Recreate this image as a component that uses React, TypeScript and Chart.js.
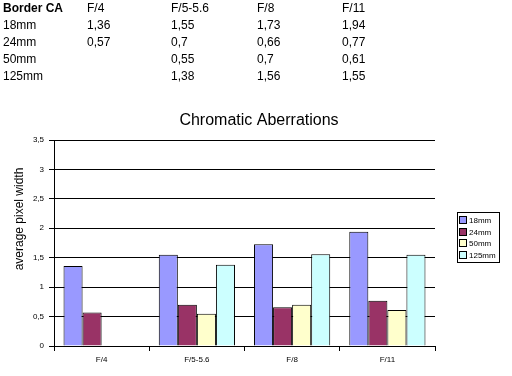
import React, { useEffect, useRef } from "react";
import { Chart, registerables } from "chart.js";

Chart.register(...registerables);

const categories = ["F/4", "F/5-5.6", "F/8", "F/11"];
const seriesNames = ["18mm", "24mm", "50mm", "125mm"];
const values18 = [1.36, 1.55, 1.73, 1.94];
const values24 = [0.57, 0.7, 0.66, 0.77];
const values50: (number | null)[] = [null, 0.55, 0.7, 0.61];
const values125: (number | null)[] = [null, 1.38, 1.56, 1.55];
const seriesColors = ["#9999FF", "#993366", "#FFFFCC", "#CCFFFF"];
const yTicks = [0, 0.5, 1, 1.5, 2, 2.5, 3, 3.5];
const tableHeader = "Border CA";
const chartTitle = "Chromatic Aberrations";
const yTitle = "average pixel width";

const FONT = "'Liberation Sans', Arial, sans-serif";
const fmt = (v: number | null) => (v === null ? "" : String(v).replace(".", ","));

const allSeries = [values18, values24, values50, values125];

const overlayPlugin = {
  id: "overlay",
  afterDraw(chart: any) {
    const ctx = chart.ctx as CanvasRenderingContext2D;
    ctx.save();
    // title
    ctx.fillStyle = "#000";
    ctx.font = `16px ${FONT}`;
    ctx.textAlign = "center";
    ctx.textBaseline = "alphabetic";
    ctx.fillText(chartTitle, 259, 125);
    // y title
    ctx.save();
    ctx.translate(20, 219);
    ctx.rotate(-Math.PI / 2);
    ctx.font = `12px ${FONT}`;
    ctx.textBaseline = "middle";
    ctx.fillText(yTitle, 0, 0);
    ctx.restore();
    // legend
    ctx.strokeStyle = "#000";
    ctx.lineWidth = 1;
    ctx.strokeRect(457.5, 212.5, 42, 50);
    ctx.font = `8px ${FONT}`;
    ctx.textAlign = "left";
    ctx.textBaseline = "middle";
    seriesNames.forEach((n, i) => {
      const y = 216 + i * 11.7;
      ctx.fillStyle = seriesColors[i];
      ctx.fillRect(459.5, Math.round(y) + 0.5, 7, 7);
      ctx.strokeStyle = "#000";
      ctx.strokeRect(459.5, Math.round(y) + 0.5, 7, 7);
      ctx.fillStyle = "#000";
      ctx.fillText(n, 469, Math.round(y) + 4.5);
    });
    ctx.restore();
  },
};

function App() {
  const ref = useRef<HTMLCanvasElement | null>(null);
  useEffect(() => {
    if (!ref.current) return;
    const chart = new Chart(ref.current, {
      type: "bar",
      data: {
        labels: categories,
        datasets: seriesNames.map((n, i) => ({
          label: n,
          data: allSeries[i],
          backgroundColor: seriesColors[i],
          borderColor: "#000",
          borderWidth: 1,
          categoryPercentage: 0.8,
          barPercentage: 1.0,
        })),
      },
      options: {
        animation: false,
        responsive: false,
        devicePixelRatio: 1,
        layout: { padding: { left: 9, top: 140, right: 77, bottom: 0 } },
        plugins: { legend: { display: false }, title: { display: false }, tooltip: { enabled: false } },
        scales: {
          x: {
            afterFit: (s: any) => { s.height = 30; },
            grid: { offset: true, drawOnChartArea: false, color: "#000", tickLength: 5 },
            border: { color: "#000" },
            ticks: { color: "#000", font: { family: FONT, size: 8 }, padding: 4 },
          },
          y: {
            min: 0,
            max: 3.5,
            afterFit: (s: any) => { s.width = 45; },
            afterBuildTicks: (s: any) => { s.ticks = yTicks.map((v) => ({ value: v })); },
            grid: { color: "#000", tickLength: 5 },
            border: { color: "#000" },
            ticks: { color: "#000", font: { family: FONT, size: 8 }, padding: 5, callback: (v: any) => fmt(Number(v)) },
          },
        },
      },
      plugins: [overlayPlugin],
    });
    return () => chart.destroy();
  }, []);

  const cols = [87, 171, 257, 342];
  const rowStyle = (r: number): React.CSSProperties => ({ position: "absolute", top: r * 17, left: 0, height: 17 });
  const cell = (x: number, bold = false): React.CSSProperties => ({
    position: "absolute", left: x, top: 0, whiteSpace: "nowrap", fontWeight: bold ? "bold" : "normal",
  });

  return (
    <div style={{ position: "fixed", left: 0, top: 0, width: 512, height: 376, background: "#fff", fontFamily: FONT, fontSize: 12, lineHeight: "17px", color: "#000" }}>
      <canvas ref={ref} width={512} height={376} style={{ position: "absolute", left: 0, top: 0, width: 512, height: 376 }} />
      <div style={rowStyle(0)}>
        <span style={cell(3, true)}>{tableHeader}</span>
        {categories.map((c, j) => <span key={c} style={cell(cols[j])}>{c}</span>)}
      </div>
      {seriesNames.map((n, i) => (
        <div key={n} style={rowStyle(i + 1)}>
          <span style={cell(3)}>{n}</span>
          {allSeries[i].map((v, j) => <span key={j} style={cell(cols[j])}>{fmt(v)}</span>)}
        </div>
      ))}
    </div>
  );
}

export default App;
